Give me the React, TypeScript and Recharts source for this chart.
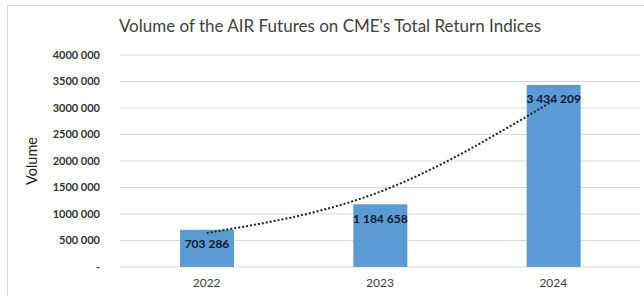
import { ComposedChart, Bar, Line, XAxis, YAxis, CartesianGrid, LabelList } from 'recharts';

const years = ['2022', '2023', '2024'];
const volumes = [703286, 1184658, 3434209];
const volumeLabels = ['703 286', '1 184 658', '3 434 209'];
// exponential trendline
const trend = [642000, 1420000, 3140000];
const yTicks = [0, 500000, 1000000, 1500000, 2000000, 2500000, 3000000, 3500000, 4000000];
const yTickLabels = ['-', '500 000', '1000 000', '1500 000', '2000 000', '2500 000', '3000 000', '3500 000', '4000 000'];
const boundaries = [0, 1, 2, 3];

const data = years.map((year, i) => ({
  year,
  pos: i + 0.5,
  volume: volumes[i],
  label: volumeLabels[i],
  trend: trend[i],
}));

const font = 'Lato, "Open Sans", sans-serif';

const BarLabel = (props: any) => {
  const { x, y, width, value } = props;
  return (
    <text x={x + width / 2} y={y + 14} textAnchor="middle" dominantBaseline="central"
      style={{ fontSize: 12, fontWeight: 700, fill: '#111827', fontFamily: font }}>
      {value}
    </text>
  );
};

export default function App() {
  return (
    <div style={{ position: 'absolute', left: 0, top: 0, width: 644, height: 296, overflow: 'hidden', background: '#fff', fontFamily: font }}>
      <div style={{ position: 'absolute', left: 7, top: 5, width: 700, height: 400, border: '1px solid #d9d9d9' }} />
      <div style={{ position: 'absolute', left: 0, width: 660, top: 15, textAlign: 'center', fontSize: 17, color: '#404040' }}>
        Volume of the AIR Futures on CME's Total Return Indices
      </div>
      <div style={{ position: 'absolute', left: 0, top: 0 }}>
        <ComposedChart width={644} height={296} data={data} margin={{ top: 55, right: 4, bottom: 9, left: 0 }}>
          <CartesianGrid vertical={false} stroke="#d9d9d9" />
          <XAxis xAxisId="edges" type="number" dataKey="pos" domain={[0, 3]} ticks={boundaries} height={0}
            axisLine={{ stroke: '#d9d9d9' }} tickLine={{ stroke: '#d9d9d9' }} tickSize={5} tick={false} />
          <XAxis dataKey="year" height={20} axisLine={false} tickLine={false} tickMargin={5}
            tick={{ fontSize: 12, fill: '#404040', fontFamily: font }} />
          <YAxis width={120} domain={[0, 4000000]} ticks={yTicks} axisLine={false} tickLine={false} tickMargin={14}
            tickFormatter={(v: number) => yTickLabels[yTicks.indexOf(v)]}
            tick={{ fontSize: 11, fontWeight: 700, fill: '#333', fontFamily: font }}
            label={{ value: 'Volume', angle: -90, position: 'insideLeft', offset: 32, style: { fontSize: 14.5, fill: '#222', fontFamily: font, textAnchor: 'middle' } }} />
          <Bar dataKey="volume" fill="#5b9bd5" barSize={54} isAnimationActive={false}>
            <LabelList dataKey="label" content={BarLabel} />
          </Bar>
          <Line dataKey="trend" type="monotone" stroke="#222" strokeWidth={2} strokeDasharray="2 2" dot={false} isAnimationActive={false} />
        </ComposedChart>
      </div>
    </div>
  );
}
